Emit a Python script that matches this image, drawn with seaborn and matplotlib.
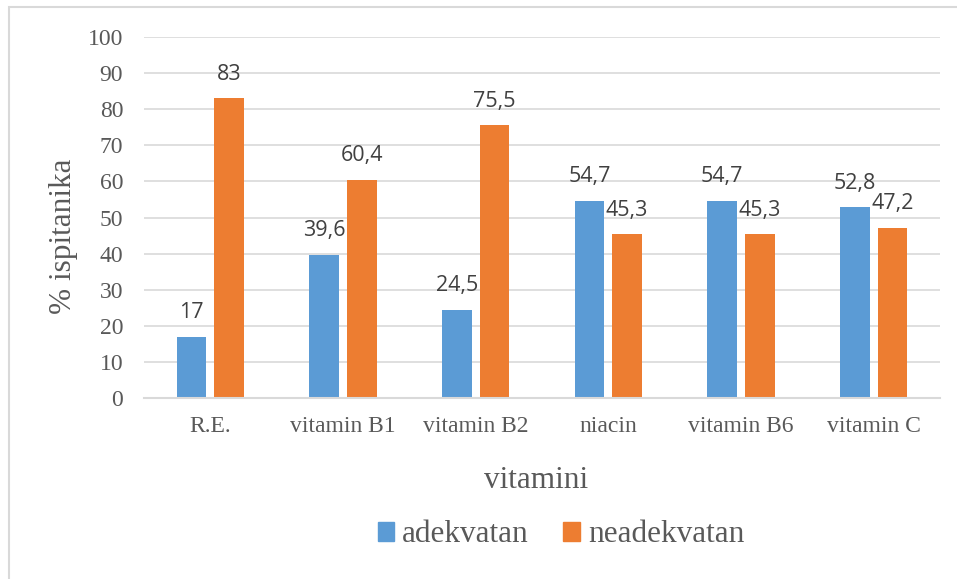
import seaborn as sns
import matplotlib.pyplot as plt
import pandas as pd
from matplotlib.patches import Rectangle

# data
categories = ["R.E.", "vitamin B1", "vitamin B2", "niacin", "vitamin B6", "vitamin C"]
adekvatan = [17, 39.6, 24.5, 54.7, 54.7, 52.8]
neadekvatan = [83, 60.4, 75.5, 45.3, 45.3, 47.2]
series_names = ["adekvatan", "neadekvatan"]
y_ticks = [0, 10, 20, 30, 40, 50, 60, 70, 80, 90, 100]

colors = ["#5B9BD5", "#ED7D31"]
text_gray = "#595959"
grid_gray = "#D9D9D9"

df = pd.DataFrame({
    "vitamin": categories * 2,
    "value": adekvatan + neadekvatan,
    "serija": [series_names[0]] * len(categories) + [series_names[1]] * len(categories),
})

sns.set_style("white")
W, H = 957, 579
fig = plt.figure(figsize=(W / 100, H / 100), dpi=100)
ax = fig.add_axes([144 / W, 1 - 398 / H, (940 - 144) / W, (398 - 37) / H])

sns.barplot(data=df, x="vitamin", y="value", hue="serija", hue_order=series_names,
            palette=colors, width=0.565, gap=0.21, linewidth=0, saturation=1,
            legend=False, ax=ax)

ax.set_ylim(0, 100)
ax.set_xlim(-0.5, len(categories) - 0.5)
ax.set_yticks(y_ticks)
ax.set_axisbelow(True)
ax.grid(axis="y", color=grid_gray, lw=1.2)
for s in ["left", "right", "top"]:
    ax.spines[s].set_visible(False)
ax.spines["bottom"].set_color(grid_gray)
ax.spines["bottom"].set_linewidth(1.5)
ax.tick_params(axis="both", length=0, labelcolor=text_gray)
ax.tick_params(axis="y", pad=15)
ax.tick_params(axis="x", pad=13)
for lab in ax.get_xticklabels() + ax.get_yticklabels():
    lab.set_fontfamily("Liberation Serif")
    lab.set_fontsize(17)
ax.set_xlabel("")
ax.set_ylabel("")

# data labels above each bar
for container in ax.containers:
    for bar in container:
        v = bar.get_height()
        ax.annotate(f"{v:g}".replace(".", ","),
                    (bar.get_x() + bar.get_width() / 2, v),
                    xytext=(0, 17.5), textcoords="offset points",
                    ha="center", va="center", fontsize=15.5,
                    family="Open Sans", color="#404040")

fig.text(63 / W, 1 - 236 / H, "% ispitanika", rotation=90, ha="center", va="center",
         fontsize=22.5, family="Liberation Serif", color=text_gray)
fig.text(536 / W, 1 - 480 / H, "vitamini", ha="center", va="center",
         fontsize=22.5, family="Liberation Serif", color=text_gray)

handles = [Rectangle((0, 0), 1, 1, color=c) for c in colors]
fig.legend(handles, series_names, loc="center", bbox_to_anchor=(561 / W, 1 - 535 / H),
           ncol=2, frameon=False, handlelength=0.52, handleheight=0.52,
           handletextpad=0.26, columnspacing=1.1,
           prop={"family": "Liberation Serif", "size": 22.5}, labelcolor=text_gray)

# light frame around the chart (cropped on right and bottom)
fig.patches.append(Rectangle((9 / W, -0.1), 1.2, (H - 7) / H + 0.1,
                             transform=fig.transFigure, fill=False,
                             edgecolor=grid_gray, lw=1.5))

fig.savefig("out.png", dpi=100)
